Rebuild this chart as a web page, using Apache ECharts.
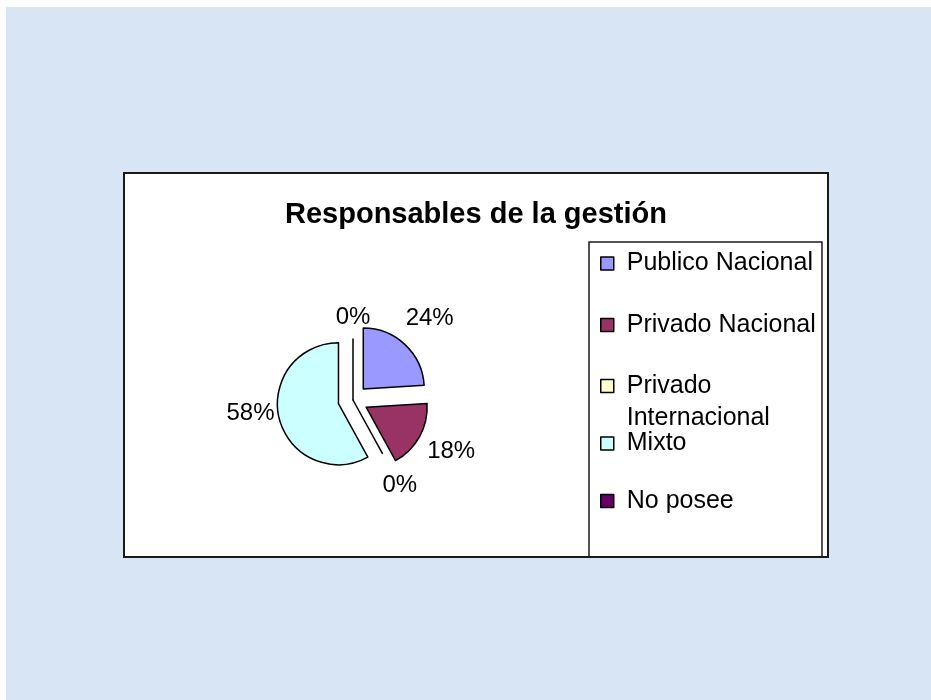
<!DOCTYPE html>
<html>
<head>
<meta charset="UTF-8">
<title>Responsables de la gestión</title>
<script src="https://cdn.jsdelivr.net/npm/echarts@6/dist/echarts.min.js"></script>
<style>
  html, body { margin: 0; padding: 0; background: #fff; }
</style>
</head>
<body>
<div id="main" style="width:931px;height:700px;"></div>
<script>
// datos
var categorias = ['Publico Nacional', 'Privado Nacional', 'Privado Internacional', 'Mixto', 'No posee'];
var porcentajes = [24, 18, 0, 58, 0];
var colores = ['#9999ff', '#993366', '#ffffcc', '#ccffff', '#660066'];

// posicion vertical de cada leyenda (px)
var leyendaTop = [249.5, 311, 338, 429.5, 487];
// pequeno ajuste de etiquetas [dx, dy] como en Excel
var ajusteEtiqueta = [[0, 0], [0, -3], [0, 0], [6, -14], [0, 14]];

var fuente = '"Liberation Sans", Arial, sans-serif';
var chart = echarts.init(document.getElementById('main'));

var leyendas = categorias.map(function (nombre, i) {
    var dosLineas = nombre === 'Privado Internacional';
    return {
        data: [nombre],
        left: 600,
        top: leyendaTop[i],
        padding: 0,
        icon: 'rect',
        itemWidth: 13,
        itemHeight: 13,
        selectedMode: false,
        itemStyle: { borderColor: '#000', borderWidth: 1.5 },
        // linea vacia arriba para que "Privado" quede junto al cuadro
        formatter: dosLineas ? function (n) { return '\n' + n; } : '{name}',
        textStyle: {
            color: '#000',
            fontSize: 25,
            fontFamily: fuente,
            lineHeight: dosLineas ? 32 : 28,
            width: 194,
            overflow: 'break',
            padding: [0, 0, 0, 8]
        }
    };
});

chart.setOption({
    backgroundColor: '#ffffff',
    animation: false,
    title: {
        text: 'Responsables de la gestión',
        left: 285,
        top: 200,
        padding: 0,
        textStyle: { color: '#000', fontSize: 29, fontWeight: 'bold', fontFamily: fuente }
    },
    graphic: [
        // fondo azul
        { type: 'rect', z: -10, shape: { x: 6, y: 7, width: 925, height: 693 }, style: { fill: '#d8e5f4' } },
        // recuadro del grafico
        { type: 'rect', z: -9, shape: { x: 124, y: 173, width: 704, height: 384 },
          style: { fill: '#fff', stroke: '#1a1a1a', lineWidth: 2 } },
        // recuadro de la leyenda
        { type: 'rect', z: -8, shape: { x: 589, y: 242, width: 233, height: 315 },
          style: { fill: 'none', stroke: '#1a1a1a', lineWidth: 1.5 } }
    ],
    legend: leyendas,
    series: [{
        type: 'pie',
        center: [353, 400],
        radius: 61,
        startAngle: 90,
        clockwise: true,
        selectedMode: 'multiple',
        selectedOffset: 15,
        avoidLabelOverlap: false,
        emphasis: { disabled: true },
        itemStyle: { borderColor: '#000', borderWidth: 1.5 },
        label: {
            show: true,
            position: 'outside',
            formatter: '{d}%',
            color: '#000',
            fontSize: 24,
            fontFamily: fuente,
            distanceToLabelLine: 0
        },
        labelLine: { show: false, length: 36, length2: 0 },
        labelLayout: function (p) {
            var a = ajusteEtiqueta[p.dataIndex];
            return { align: 'center', dx: a[0], dy: a[1] };
        },
        data: categorias.map(function (nombre, i) {
            return {
                name: nombre,
                value: porcentajes[i],
                selected: porcentajes[i] > 0,
                itemStyle: { color: colores[i] }
            };
        })
    }]
});
</script>
</body>
</html>
